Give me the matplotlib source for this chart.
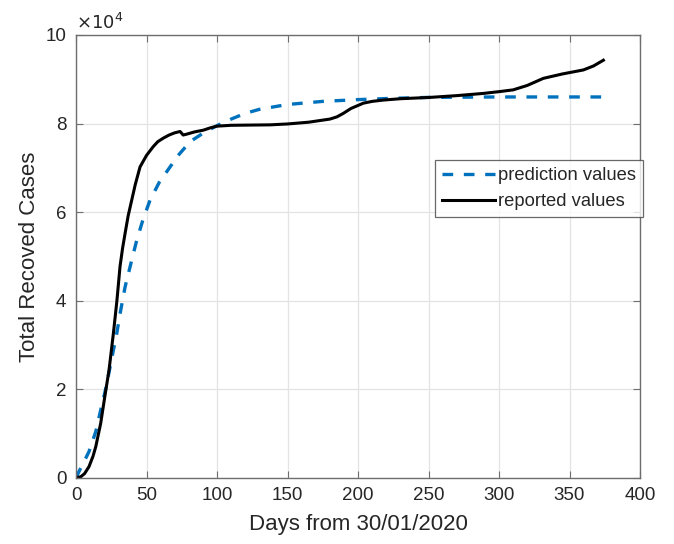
import matplotlib
matplotlib.use("Agg")
import matplotlib.pyplot as plt
from matplotlib.ticker import FuncFormatter

plt.rcParams['font.family'] = ['Liberation Sans', 'DejaVu Sans']

# Reported cumulative recoveries (days since 30/01/2020)
reported_days = [0, 3.3, 6, 9.2, 12, 14, 17.5, 20.4, 23.4, 26.5, 29, 31.2,
                 33, 34.8, 37, 39.5, 42, 45.4, 50, 54.8, 58, 61.9, 66, 70, 73.8,
                 76, 78.5, 84, 90.3, 95, 99.8, 110, 123.4, 137.6, 150, 165, 180,
                 185, 189.6, 195, 203.8, 210, 218, 230, 251, 270, 288.9, 300, 310,
                 320, 331.4, 345, 359.8, 367, 374]
reported_vals = [0, 200, 900, 2500, 4800, 7000, 12300, 18300, 24300,
                 32600, 40000, 47700, 51800, 55200, 59200, 62700, 66200, 70200,
                 72800, 74800, 75900, 76700, 77400, 77900, 78200, 77400, 77600,
                 78100, 78500, 79000, 79400, 79600, 79650, 79700, 79900, 80300,
                 81000, 81500, 82300, 83400, 84600, 85000, 85300, 85600, 85900,
                 86300, 86800, 87200, 87600, 88600, 90200, 91200, 92100, 93000,
                 94300]

# Model prediction
pred_days = [0, 2.1, 5.5, 9.2, 14, 17.5, 21, 23.4, 26, 28.9, 31.5, 34.8, 39,
             43.1, 47.5, 52.5, 59, 66.7, 73, 80.9, 90, 99.8, 110, 120, 130, 150,
             175, 200, 225, 250, 300, 374]
pred_vals = [0, 1400, 3500, 5900, 10400, 15300, 20000, 23800, 28000, 32600,
             37500, 43100, 48500, 53700, 58300, 62700, 66700, 70200, 73000,
             75900, 77800, 79500, 81000, 82300, 83200, 84300, 85000, 85400,
             85700, 85900, 86000, 86000]

xticks = [0, 50, 100, 150, 200, 250, 300, 350, 400]
yticks = [0, 20000, 40000, 60000, 80000, 100000]

fig = plt.figure(figsize=(6.74, 5.44), dpi=100)
ax = fig.add_axes([0.1128, 0.1219, 0.8368, 0.8138])

ax.plot(pred_days, pred_vals, color='#0072BD', lw=2.4, linestyle=(0, (3.2, 3.2)),
        label='prediction values')
ax.plot(reported_days, reported_vals, color='black', lw=2.2,
        label='reported values')

ax.set_xlim(0, 400)
ax.set_ylim(0, 100000)
ax.set_xticks(xticks)
ax.set_yticks(yticks)
ax.yaxis.set_major_formatter(FuncFormatter(lambda v, p: f"{v/1e4:g}"))

axis_gray = '#262626'
for s in ax.spines.values():
    s.set_color('#6e6e6e')
    s.set_linewidth(1.0)
ax.tick_params(direction='in', top=True, right=True, length=5, width=0.8,
               color='#6e6e6e', labelsize=13.5, labelcolor=axis_gray, pad=7)
ax.grid(True, color='#e3e3e3', linewidth=0.9)
ax.set_axisbelow(True)

ax.set_xlabel('Days from 30/01/2020', fontsize=16, color=axis_gray, labelpad=7)
ax.set_ylabel('Total Recoved Cases', fontsize=16, color=axis_gray, labelpad=4)
ax.text(0.0, 1.005, r'$\times10^{4}$', transform=ax.transAxes, fontsize=13,
        color=axis_gray, ha='left', va='bottom')

leg = ax.legend(loc='upper left', bbox_to_anchor=(0.6365, 0.7177), fontsize=13.2,
                frameon=True, fancybox=False, handlelength=2.9,
                handletextpad=0.15, borderpad=0.38, labelspacing=0.5,
                borderaxespad=0)
leg.get_frame().set_edgecolor('#444444')
leg.get_frame().set_linewidth(0.9)
for t in leg.get_texts():
    t.set_color(axis_gray)

fig.savefig('out.png', dpi=100)
